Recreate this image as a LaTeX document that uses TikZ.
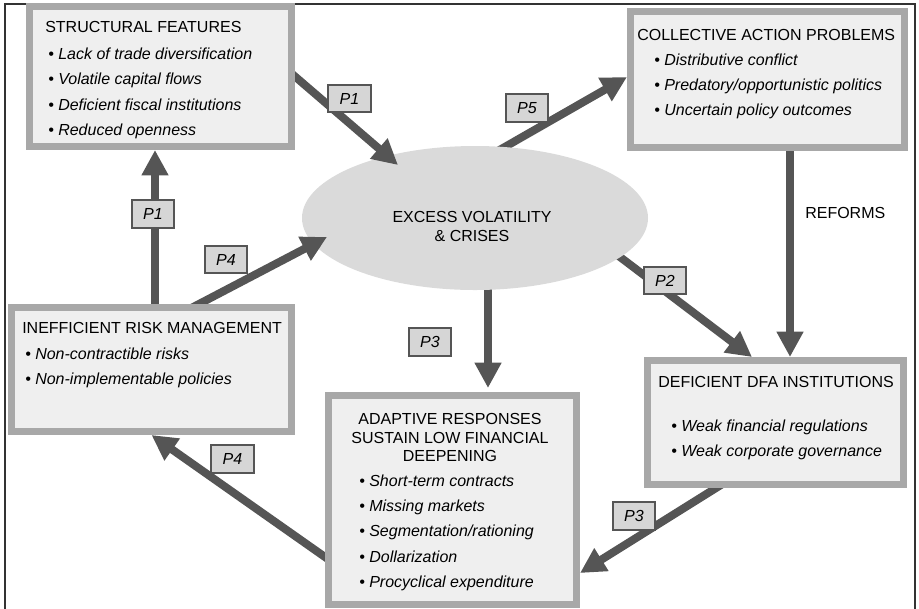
\documentclass[tikz,border=0pt]{standalone}
\usepackage{fontspec}
\setmainfont{Liberation Sans}
\usetikzlibrary{arrows.meta,shapes.geometric,calc}
\pgfdeclarelayer{bg}
\pgfdeclarelayer{mid}
\pgfsetlayers{bg,mid,main}
\definecolor{arr}{HTML}{555555}
\definecolor{boxfill}{HTML}{EFEFEF}
\definecolor{boxline}{HTML}{A8A8A8}
\definecolor{ellfill}{HTML}{DADADA}
\definecolor{labfill}{HTML}{D6D6D6}
\definecolor{frame}{HTML}{333333}
\tikzset{
  bigbox/.style={draw=boxline, fill=boxfill, line width=5.25pt, outer sep=2.625pt, inner sep=0pt, rectangle},
  tt/.style={inner sep=0pt, font=\fontsize{12pt}{14pt}\selectfont},
  it/.style={inner sep=0pt, font=\fontsize{12pt}{14pt}\selectfont\itshape},
  lab/.style={draw=arr, fill=labfill, line width=1.4pt, inner sep=0pt, minimum width=32pt, minimum height=20.5pt, font=\fontsize{12pt}{14pt}\selectfont\itshape},
  fat/.style={draw=arr, line width=6pt, -{Triangle[length=19pt,width=19pt]}},
}
\begin{document}
\begin{tikzpicture}[x=0.75pt,y=-0.75pt]
\useasboundingbox (0,0) rectangle (919,608);
% frame
\draw[frame, line width=1.2pt] (5,612) -- (5,4) -- (915,4) -- (915,612);

% boxes
\node[bigbox, minimum width=196.5pt, minimum height=105pt] (struct) at (160.5,76.5) {};
\node[bigbox, minimum width=205.5pt, minimum height=102pt] (coll) at (767.5,79.5) {};
\node[bigbox, minimum width=210pt, minimum height=93pt] (inef) at (151.5,369.5) {};
\node[bigbox, minimum width=186pt, minimum height=156.75pt] (adapt) at (452.5,500) {};
\node[bigbox, minimum width=192pt, minimum height=93pt] (dfa) at (775.5,422.5) {};

% ellipse
\begin{pgfonlayer}{mid}
\node[ellipse, fill=ellfill, inner sep=0pt, minimum width=259.5pt, minimum height=108pt] (ell) at (475,218) {};
\end{pgfonlayer}

% named points
\coordinate (t1) at (398,165);
\coordinate (t3) at (327,237);
\coordinate (e5) at (503,148);
\coordinate (e2) at (620,257);
\coordinate (e3) at (488,290);

% arrows starting from the ellipse (under it)
\begin{pgfonlayer}{bg}
\draw[fat, shorten <=-12pt] (e5) -- ($(coll.west)+(0,-2.5)$);
\draw[fat, shorten <=-12pt] (e2) -- ($(dfa.north west)+(108,0)$);
\draw[fat, shorten <=-12pt] (e3) -- ($(adapt.north)+(35.5,-4)$);
\end{pgfonlayer}

% other arrows (under boxes, over ellipse)
\begin{pgfonlayer}{mid}
\draw[fat, shorten <=-8pt] (struct.east) -- (t1);
\draw[fat] ($(inef.north)+(3.5,0)$) -- ($(struct.south)+(-5.5,0)$);
\draw[fat, shorten <=-8pt] ($(inef.north)+(47.5,0)$) -- (t3);
\draw[fat] ($(coll.south west)+(163,0)$) -- ($(dfa.north west)+(146,0)$);
\draw[fat, shorten <=-8pt] ($(dfa.south west)+(72,0)$) -- (adapt.east |- 0,573);
\draw[fat, shorten <=-8pt] ($(adapt.west)+(0,57)$) -- (inef.south);
\end{pgfonlayer}

% labels
\node[lab] (l1) at (349.5,98.5) {P1};
\node[lab] (l2) at (153,214) {P1};
\node[lab] (l3) at (226,259.5) {P4};
\node[lab] (l4) at (527,108) {P5};
\node[lab] (l5) at (665,280.5) {P2};
\node[lab] (l6) at (430,342) {P3};
\node[lab] (l7) at (634,516) {P3};
\node[lab] (l8) at (232.5,459) {P4};

% ellipse text
\node[tt, anchor=base] (ex1) at (472,222) {EXCESS VOLATILITY};
\node[tt, anchor=base] (ex2) at (472,241) {\& CRISES};

% reforms
\node[tt, anchor=base west] (ref) at (805,218) {REFORMS};

% structural features text
\node[tt, anchor=base west] (s0) at (45,32) {STRUCTURAL FEATURES};
\node[it, anchor=base west] (s1) at (48,59) {\textbullet\ Lack of trade diversification};
\node[it, anchor=base west] (s2) at (48,84) {\textbullet\ Volatile capital flows};
\node[it, anchor=base west] (s3) at (48,110) {\textbullet\ Deficient fiscal institutions};
\node[it, anchor=base west] (s4) at (48,135) {\textbullet\ Reduced openness};

% collective action text
\node[tt, anchor=base west] (c0) at (637,40) {COLLECTIVE ACTION PROBLEMS};
\node[it, anchor=base west] (c1) at (654,65) {\textbullet\ Distributive conflict};
\node[it, anchor=base west] (c2) at (654,90) {\textbullet\ Predatory/opportunistic politics};
\node[it, anchor=base west] (c3) at (654,115) {\textbullet\ Uncertain policy outcomes};

% inefficient risk management text
\node[tt, anchor=base west] (i0) at (22,333) {INEFFICIENT RISK MANAGEMENT};
\node[it, anchor=base west] (i1) at (25,359) {\textbullet\ Non-contractible risks};
\node[it, anchor=base west] (i2) at (25,384) {\textbullet\ Non-implementable policies};

% adaptive responses text
\node[tt, anchor=base] (a0) at (450,424) {ADAPTIVE RESPONSES};
\node[tt, anchor=base] (a1) at (450,443) {SUSTAIN LOW FINANCIAL};
\node[tt, anchor=base] (a2) at (450,461) {DEEPENING};
\node[it, anchor=base west] (a3) at (359,486) {\textbullet\ Short-term contracts};
\node[it, anchor=base west] (a4) at (359,511) {\textbullet\ Missing markets};
\node[it, anchor=base west] (a5) at (359,536) {\textbullet\ Segmentation/rationing};
\node[it, anchor=base west] (a6) at (359,562) {\textbullet\ Dollarization};
\node[it, anchor=base west] (a7) at (359,587) {\textbullet\ Procyclical expenditure};

% deficient DFA text
\node[tt, anchor=base west] (d0) at (658,387) {DEFICIENT DFA INSTITUTIONS};
\node[it, anchor=base west] (d1) at (671,431) {\textbullet\ Weak financial regulations};
\node[it, anchor=base west] (d2) at (671,456) {\textbullet\ Weak corporate governance};
\end{tikzpicture}
\end{document}
